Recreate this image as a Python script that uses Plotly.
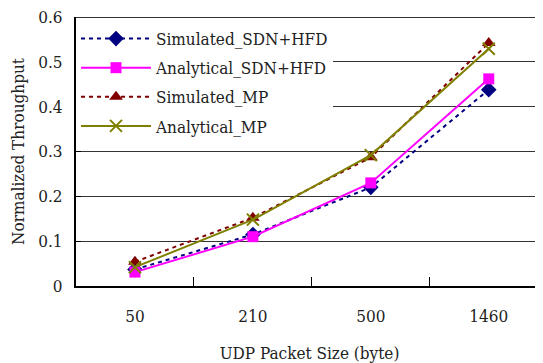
import plotly.graph_objects as go

categories = ["50", "210", "500", "1460"]
sim_sdn = [0.037, 0.115, 0.220, 0.438]
ana_sdn = [0.031, 0.110, 0.230, 0.462]
sim_mp = [0.054, 0.152, 0.287, 0.542]
ana_mp = [0.042, 0.148, 0.292, 0.529]
y_ticks = [0, 0.1, 0.2, 0.3, 0.4, 0.5, 0.6]
y_tick_labels = ["0", "0.1", "0.2", "0.3", "0.4", "0.5", "0.6"]

FONT = "DejaVu Serif Condensed"

fig = go.Figure()
fig.add_trace(go.Scatter(x=categories, y=sim_sdn, name="Simulated_SDN+HFD", mode="lines+markers",
                         legendgroup="a",
                         line=dict(color="#000080", width=2, dash="4px,4px"),
                         marker=dict(symbol="diamond", size=12, color="#000080")))
fig.add_trace(go.Scatter(x=categories, y=ana_sdn, name="Analytical_SDN+HFD", mode="lines+markers",
                         legendgroup="b",
                         line=dict(color="#FF00FF", width=2),
                         marker=dict(symbol="square", size=11, color="#FF00FF")))
fig.add_trace(go.Scatter(x=categories, y=sim_mp, name="Simulated_MP", mode="lines+markers",
                         legendgroup="c",
                         line=dict(color="#800000", width=2, dash="4px,4px"),
                         marker=dict(symbol="triangle-up", size=12, color="#800000")))
fig.add_trace(go.Scatter(x=categories, y=ana_mp, name="Analytical_MP", mode="lines+markers",
                         legendgroup="d",
                         line=dict(color="#808000", width=2),
                         marker=dict(symbol="x-thin-open", size=12, color="#808000",
                                     line=dict(color="#808000", width=2))))

# top border line at the top y tick
fig.add_shape(type="line", xref="paper", yref="y", x0=0, x1=1,
              y0=y_ticks[-1], y1=y_ticks[-1], line=dict(color="#333333", width=2),
              layer="below")

fig.update_layout(
    width=535, height=355,
    margin=dict(l=68, r=0, t=9, b=77),
    paper_bgcolor="white", plot_bgcolor="white",
    font=dict(family=FONT, size=17, color="#222222"),
    showlegend=True,
    legend=dict(x=0, y=0.985, xanchor="left", yanchor="top", bgcolor="white",
                font=dict(family=FONT, size=17, color="#222222"),
                itemwidth=70, tracegroupgap=4),
    xaxis=dict(type="category", range=[-0.5, 3.46], showgrid=False, automargin=False,
               showline=True, linecolor="black", linewidth=2,
               ticks="inside", tickson="boundaries", ticklen=9, tickcolor="black",
               ticklabelstandoff=14,
               title=dict(text="UDP Packet Size (byte)", standoff=24,
                          font=dict(family=FONT, size=17)),
               tickfont=dict(family=FONT, size=17)),
    yaxis=dict(range=[0, 0.6], tickvals=y_ticks, ticktext=y_tick_labels, automargin=False,
               showgrid=True, gridcolor="#333333", gridwidth=1,
               showline=True, linecolor="black", linewidth=2,
               ticks="inside", ticklen=5, tickcolor="black", zeroline=False,
               ticklabeloverflow="allow", ticklabelstandoff=8,
               title=dict(text="Normalized Throughput", standoff=12,
                          font=dict(family=FONT, size=17)),
               tickfont=dict(family=FONT, size=17)),
)

fig.write_html("out.html")
